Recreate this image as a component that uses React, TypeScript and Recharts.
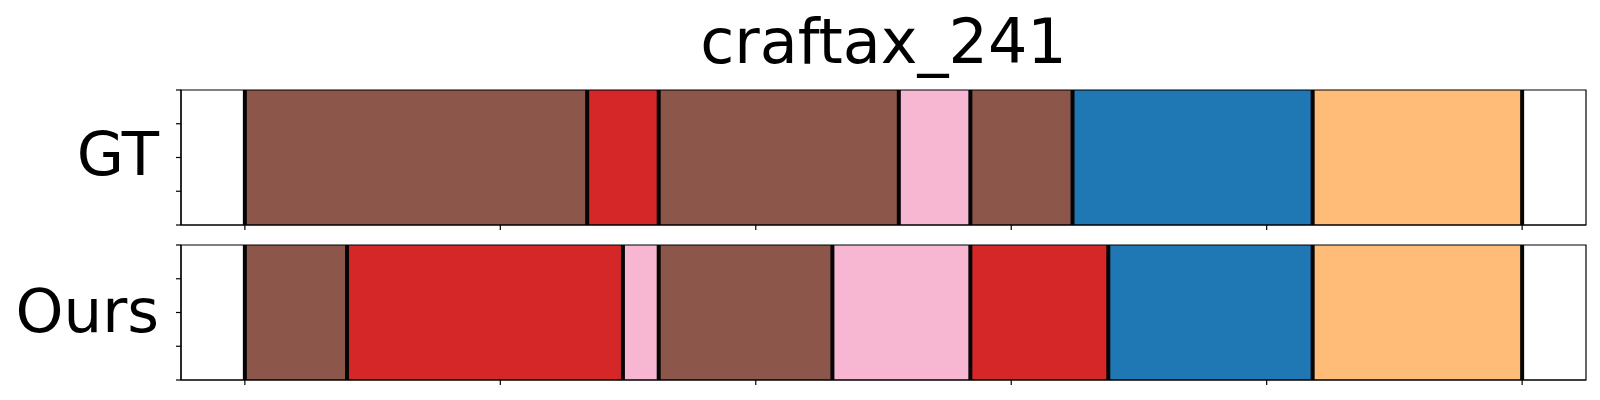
import React from "react";
import {
  ComposedChart,
  ReferenceArea,
  ReferenceLine,
  XAxis,
  YAxis,
} from "recharts";

const TITLE = "craftax_241";
const ROW_NAMES = ["GT", "Ours"];

// segment boundaries (frame index) and colour key per segment
const gtBounds = [0, 67, 81, 128, 142, 162, 209, 250];
const gtKinds = ["brown", "red", "brown", "pink", "brown", "blue", "orange"];
const oursBounds = [0, 20, 74, 81, 115, 142, 169, 209, 250];
const oursKinds = ["brown", "red", "pink", "brown", "pink", "red", "blue", "orange"];

const xTicks = [0, 50, 100, 150, 200, 250];
const yTicks = [0, 0.25, 0.5, 0.75, 1];

const PALETTE: Record<string, string> = {
  brown: "#8c564b",
  red: "#d62728",
  pink: "#f7b6d2",
  blue: "#1f77b4",
  orange: "#ffbb78",
};

const FONT = "'DejaVu Sans', sans-serif";
const X_DOMAIN: [number, number] = [-12.5, 262.5];

const noLabel = () => <g />;

function SegmentRow({
  bounds,
  kinds,
  height,
  margin,
}: {
  bounds: number[];
  kinds: string[];
  height: number;
  margin: { top: number; right: number; bottom: number; left: number };
}) {
  const segs = kinds.map((k, i) => ({ start: bounds[i], end: bounds[i + 1], kind: k }));
  const data = bounds.map((b) => ({ x: b }));
  return (
    <ComposedChart width={1600} height={height} data={data} margin={margin}>
      <XAxis
        type="number"
        dataKey="x"
        domain={X_DOMAIN}
        ticks={xTicks}
        tick={noLabel}
        tickSize={5}
        height={1}
        axisLine={{ stroke: "#000", strokeWidth: 1.2 }}
        tickLine={{ stroke: "#000", strokeWidth: 1.2 }}
        allowDataOverflow
      />
      <YAxis
        type="number"
        domain={[0, 1]}
        ticks={yTicks}
        tick={noLabel}
        tickSize={5}
        width={1}
        axisLine={{ stroke: "#000", strokeWidth: 1.2 }}
        tickLine={{ stroke: "#000", strokeWidth: 1.2 }}
        allowDataOverflow
      />
      {segs.map((s, i) => (
        <ReferenceArea
          key={"s" + i}
          x1={s.start}
          x2={s.end}
          y1={0}
          y2={1}
          fill={PALETTE[s.kind]}
          fillOpacity={1}
          stroke="none"
        />
      ))}
      {bounds.map((b, i) => (
        <ReferenceLine key={"b" + i} x={b} stroke="#050505" strokeWidth={4} />
      ))}
      <ReferenceArea
        x1={X_DOMAIN[0]}
        x2={X_DOMAIN[1]}
        y1={0}
        y2={1}
        fill="none"
        stroke="#000"
        strokeWidth={1.2}
        strokeOpacity={1}
        ifOverflow="visible"
      />
    </ComposedChart>
  );
}

const labelStyle: React.CSSProperties = {
  position: "absolute",
  fontFamily: FONT,
  fontSize: 61,
  lineHeight: "61px",
  color: "#000",
  whiteSpace: "nowrap",
};

export default function App() {
  return (
    <div
      style={{
        position: "absolute",
        left: 0,
        top: 0,
        width: 1600,
        height: 400,
        background: "#fff",
        overflow: "hidden",
      }}
    >
      <div style={{ position: "absolute", left: 0, top: 0 }}>
        <SegmentRow
          bounds={gtBounds}
          kinds={gtKinds}
          height={240}
          margin={{ top: 90, right: 14, bottom: 14, left: 180 }}
        />
      </div>
      <div style={{ position: "absolute", left: 0, top: 230 }}>
        <SegmentRow
          bounds={oursBounds}
          kinds={oursKinds}
          height={170}
          margin={{ top: 15, right: 14, bottom: 19, left: 180 }}
        />
      </div>
      <div style={{ ...labelStyle, fontSize: 62, lineHeight: "62px", left: 181, width: 1405, top: 11, textAlign: "center" }}>
        {TITLE}
      </div>
      <div style={{ ...labelStyle, right: 1441, top: 123, textAlign: "right" }}>
        {ROW_NAMES[0]}
      </div>
      <div style={{ ...labelStyle, right: 1441, top: 280, textAlign: "right" }}>
        {ROW_NAMES[1]}
      </div>
    </div>
  );
}
